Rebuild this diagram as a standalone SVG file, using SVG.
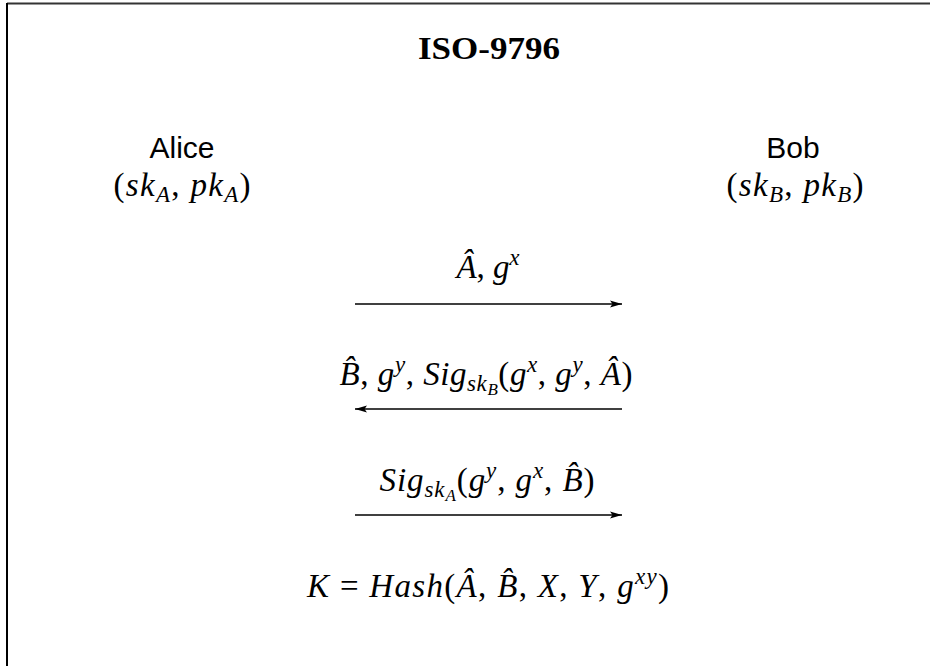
<svg xmlns="http://www.w3.org/2000/svg" width="930" height="666" viewBox="0 0 930 666">
<style>
.m{font-family:"Liberation Serif","DejaVu Serif",serif;font-size:33px;font-style:italic;fill:#000}
.r{font-style:normal}
.s{font-size:23px}
.ss{font-size:17px}
.sans{font-family:"Liberation Sans","DejaVu Sans",sans-serif;font-size:30px;fill:#000}
.title{font-family:"Liberation Serif","DejaVu Serif",serif;font-size:31px;font-weight:bold;fill:#000}
.arr{stroke:#000;stroke-width:1.3;fill:none;marker-end:url(#ah)}
</style>
<defs>
<marker id="ah" viewBox="0 0 12 8" refX="12" refY="4" markerWidth="12" markerHeight="8" markerUnits="userSpaceOnUse" orient="auto">
<path d="M0,0.5 L12,4 L0,7.5 L2.5,4 Z" fill="#000"/>
</marker>
</defs>
<rect width="930" height="666" fill="#fff"/>
<g id="frame">
<line x1="7" y1="3.5" x2="930" y2="3.5" stroke="#333" stroke-width="2"/>
<line x1="7" y1="3" x2="7" y2="666" stroke="#000" stroke-width="2"/>
</g>
<g id="title"><text class="title" x="489" y="59" text-anchor="middle" textLength="142" lengthAdjust="spacingAndGlyphs">ISO-9796</text></g>
<g id="alice">
<text class="sans" x="182" y="158" text-anchor="middle">Alice</text>
<text class="m" x="182" y="196" text-anchor="middle" textLength="137"><tspan class="r">(</tspan>sk<tspan class="s" dy="6">A</tspan><tspan class="r" dy="-6">, </tspan>pk<tspan class="s" dy="6">A</tspan><tspan class="r" dy="-6">)</tspan></text>
</g>
<g id="bob">
<text class="sans" x="793" y="158" text-anchor="middle">Bob</text>
<text class="m" x="795" y="196" text-anchor="middle" textLength="137"><tspan class="r">(</tspan>sk<tspan class="s" dy="6">B</tspan><tspan class="r" dy="-6">, </tspan>pk<tspan class="s" dy="6">B</tspan><tspan class="r" dy="-6">)</tspan></text>
</g>
<g id="connectors">
<line class="arr" x1="355" y1="304" x2="622" y2="304"/>
<line class="arr" x1="622" y1="409" x2="355" y2="409"/>
<line class="arr" x1="355" y1="515" x2="622" y2="515"/>
</g>
<g id="labels">
<text class="m" x="488" y="278" text-anchor="middle" textLength="63">Â<tspan class="r">, </tspan>g<tspan class="s" dy="-13">x</tspan></text>
<text class="m" x="486" y="385" text-anchor="middle" textLength="293">B̂<tspan class="r">, </tspan>g<tspan class="s" dy="-13">y</tspan><tspan class="r" dy="13">, </tspan>Sig<tspan class="s" dy="6">sk</tspan><tspan class="ss" dy="4">B</tspan><tspan class="r" dy="-10">(</tspan>g<tspan class="s" dy="-13">x</tspan><tspan class="r" dy="13">, </tspan>g<tspan class="s" dy="-13">y</tspan><tspan class="r" dy="13">, </tspan>Â<tspan class="r">)</tspan></text>
<text class="m" x="487" y="491" text-anchor="middle" textLength="215">Sig<tspan class="s" dy="6">sk</tspan><tspan class="ss" dy="4">A</tspan><tspan class="r" dy="-10">(</tspan>g<tspan class="s" dy="-13">y</tspan><tspan class="r" dy="13">, </tspan>g<tspan class="s" dy="-13">x</tspan><tspan class="r" dy="13">, </tspan>B̂<tspan class="r">)</tspan></text>
<text class="m" x="488" y="597" text-anchor="middle" textLength="362">K<tspan class="r"> = </tspan>Hash<tspan class="r">(</tspan>Â<tspan class="r">, </tspan>B̂<tspan class="r">, </tspan>X<tspan class="r">, </tspan>Y<tspan class="r">, </tspan>g<tspan class="s" dy="-13">xy</tspan><tspan class="r" dy="13">)</tspan></text>
</g>
</svg>
